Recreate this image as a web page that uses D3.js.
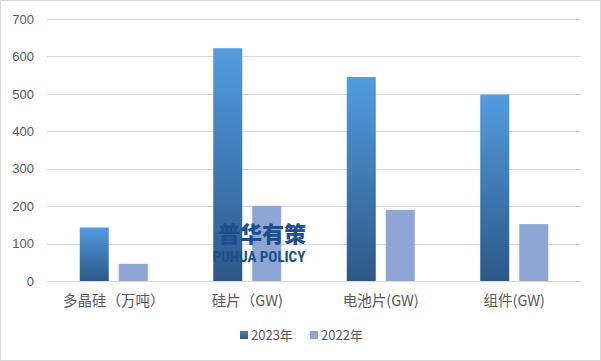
<!DOCTYPE html>
<html>
<head>
<meta charset="utf-8">
<script src="https://cdn.jsdelivr.net/npm/d3@7"></script>
<style>
  body { margin: 0; background: #fff; }
  svg { display: block; font-family: "Noto Sans CJK SC", "Noto Sans", sans-serif; }
</style>
</head>
<body>
<svg id="chart"></svg>
<script>
var width = 601,
    height = 361;

var categories = ['多晶硅（万吨）', '硅片（GW)', '电池片(GW)', '组件(GW)'];
var seriesNames = ['2023年', '2022年'];
var values2023 = [143, 622, 545, 498];
var values2022 = [46, 201, 190, 152];
var yTicks = [0, 100, 200, 300, 400, 500, 600, 700];

var MARGIN = { LEFT: 47, RIGHT: 20, TOP: 19, BOTTOM: 80 };

var svg = d3.select('#chart')
    .attr('width', width)
    .attr('height', height);

// outer frame
svg.append('rect')
    .attr('x', 0.5).attr('y', 0.5)
    .attr('width', width - 1).attr('height', height - 1)
    .attr('fill', '#fff')
    .attr('stroke', '#d9d9d9');

var defs = svg.append('defs');
var grad = defs.append('linearGradient')
    .attr('id', 'grad2023')
    .attr('x1', 0).attr('y1', 0).attr('x2', 0).attr('y2', 1);
grad.append('stop').attr('offset', '0%').attr('stop-color', '#529ce0');
grad.append('stop').attr('offset', '100%').attr('stop-color', '#2c5886');

var legendGrad = defs.append('linearGradient')
    .attr('id', 'gradLegend')
    .attr('x1', 0).attr('y1', 0).attr('x2', 0).attr('y2', 1);
legendGrad.append('stop').attr('offset', '0%').attr('stop-color', '#3f7fbf');
legendGrad.append('stop').attr('offset', '100%').attr('stop-color', '#2c5886');

var xScale = d3.scaleBand()
    .domain(categories)
    .range([MARGIN.LEFT, 581]);

var yScale = d3.scaleLinear()
    .domain([0, 700])
    .range([281, MARGIN.TOP]);

// gridlines
svg.append('g')
    .selectAll('line')
    .data(yTicks)
    .enter()
    .append('line')
    .attr('x1', MARGIN.LEFT)
    .attr('x2', 581)
    .attr('y1', function (d) { return Math.round(yScale(d)) + 0.5; })
    .attr('y2', function (d) { return Math.round(yScale(d)) + 0.5; })
    .attr('stroke', '#d9d9d9')
    .attr('stroke-width', 1);

// y labels
var yAxis = d3.axisLeft(yScale)
    .tickValues(yTicks)
    .tickSize(0)
    .tickPadding(0);

var yG = svg.append('g')
    .attr('transform', 'translate(34, 0)')
    .call(yAxis);
yG.select('.domain').remove();
yG.selectAll('text')
    .attr('fill', '#595959')
    .style('font-size', '13px')
    .style('font-family', '"Liberation Sans", "Noto Sans", sans-serif');

// bars
var barW = 29, gap = 10;
var sub = d3.scaleOrdinal().domain(seriesNames).range([-(barW + gap / 2), gap / 2]);

var rows = categories.map(function (c, i) {
    return { cat: c, v: [values2023[i], values2022[i]] };
});

var groups = svg.selectAll('g.cat')
    .data(rows)
    .enter()
    .append('g')
    .attr('class', 'cat')
    .attr('transform', function (d) {
        return 'translate(' + (xScale(d.cat) + xScale.bandwidth() / 2) + ',0)';
    });

groups.selectAll('rect')
    .data(function (d) {
        return d.v.map(function (v, j) { return { name: seriesNames[j], value: v }; });
    })
    .enter()
    .append('rect')
    .attr('x', function (d) { return sub(d.name); })
    .attr('width', barW)
    .attr('y', function (d) { return yScale(d.value); })
    .attr('height', function (d) { return yScale(0) - yScale(d.value); })
    .attr('fill', function (d) { return d.name === '2023年' ? 'url(#grad2023)' : '#8fa5d5'; });

// x labels
groups.append('text')
    .attr('y', 306)
    .attr('text-anchor', 'middle')
    .attr('fill', '#595959')
    .style('font-size', '14.5px')
    .text(function (d) { return d.cat; });

// legend
var legend = svg.append('g').attr('class', 'legend');
var legendX = [240, 310];
seriesNames.forEach(function (name, i) {
    legend.append('rect')
        .attr('x', legendX[i])
        .attr('y', 331)
        .attr('width', 8)
        .attr('height', 8)
        .attr('fill', i === 0 ? 'url(#gradLegend)' : '#8fa5d5');
    legend.append('text')
        .attr('x', legendX[i] + 11)
        .attr('y', 340)
        .attr('fill', '#595959')
        .style('font-size', '13px')
        .text(name);
});

// watermark
svg.append('text')
    .attr('x', 262)
    .attr('y', 242)
    .attr('text-anchor', 'middle')
    .attr('fill', '#1d4f8f')
    .style('font-size', '22px')
    .style('font-weight', '900')
    .text('普华有策');
svg.append('text')
    .attr('x', 259)
    .attr('y', 262)
    .attr('text-anchor', 'middle')
    .attr('fill', '#1d4f8f')
    .style('font-size', '15px')
    .style('font-weight', 'bold')
    .style('font-family', '"Liberation Sans Narrow", "Roboto Condensed", sans-serif')
    .text('PUHUA POLICY');
</script>
</body>
</html>
